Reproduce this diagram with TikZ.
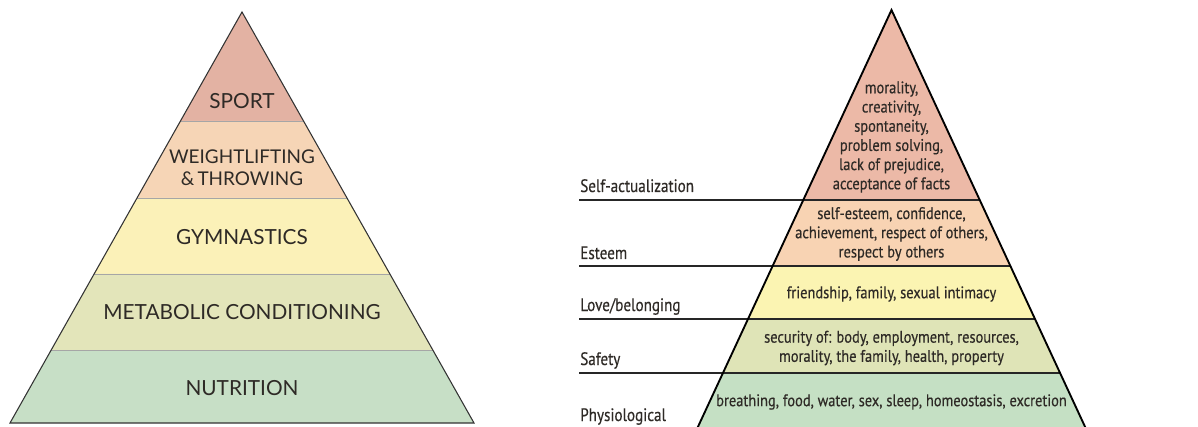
\documentclass[tikz,border=0pt]{standalone}
\usepackage{fontspec}
\newfontfamily\leftfont{Lato}
\newfontfamily\rightfont[FakeStretch=0.86,FakeBold=0.4]{PT Sans}
\newfontfamily\labelfont[FakeStretch=0.84,FakeBold=0.4]{PT Sans}
\definecolor{txt}{HTML}{2E2A26}
\definecolor{lA}{HTML}{E3B2A3}
\definecolor{lB}{HTML}{F6D5B6}
\definecolor{lC}{HTML}{FBF1B8}
\definecolor{lD}{HTML}{E3E5BA}
\definecolor{lE}{HTML}{C7DFC6}
\definecolor{rA}{HTML}{ECB9A7}
\definecolor{rB}{HTML}{F8D3B3}
\definecolor{rC}{HTML}{FBF4B2}
\definecolor{rD}{HTML}{DFE4B7}
\definecolor{rE}{HTML}{C5E0C4}
\tikzset{
  lband/.style={draw=gray!70, line width=0.5pt},
  rband/.style={draw=black, line width=1.4pt},
  ltext/.style={font=\leftfont\fontsize{15.6}{17}\selectfont, text=txt, align=center, inner sep=0pt},
  rtext/.style={font=\rightfont\fontsize{12.6}{14.4}\selectfont, text=txt, align=center, inner sep=0pt},
  rlabel/.style={font=\labelfont\fontsize{13.5}{15}\selectfont, text=txt, anchor=base west, inner sep=0pt},
  lline/.style={draw=black!85, line width=1.4pt}
}
\begin{document}
\begin{tikzpicture}[x=0.75pt,y=-0.75pt]
\useasboundingbox (0,0) rectangle (1198,427);
% ---------- left pyramid ----------
\fill[lA] (242,12) -- (303.5,121) -- (180.5,121) -- cycle;
\fill[lB] (180.5,121) -- (303.5,121) -- (346.9,198) -- (137.1,198) -- cycle;
\fill[lC] (137.1,198) -- (346.9,198) -- (389.8,274) -- (94.2,274) -- cycle;
\fill[lD] (94.2,274) -- (389.8,274) -- (432.7,350) -- (51.3,350) -- cycle;
\fill[lE] (51.3,350) -- (432.7,350) -- (474,423) -- (10,423) -- cycle;
\draw[lband] (180.5,121) -- (303.5,121);
\draw[lband] (137.1,198) -- (346.9,198);
\draw[lband] (94.2,274) -- (389.8,274);
\draw[lband] (51.3,350) -- (432.7,350);
\draw[draw=black!80, line width=0.8pt, line join=miter] (242,12) -- (474,423) -- (10,423) -- cycle;
\node[ltext] (sport) at (242,101) {SPORT};
\node[ltext, font=\leftfont\fontsize{14.2}{16.5}\selectfont] (weight) at (242,168) {WEIGHTLIFTING\\\&\,THROWING};
\node[ltext] (gym) at (242,237) {GYMNASTICS};
\node[ltext] (meta) at (242,312) {METABOLIC CONDITIONING};
\node[ltext] (nutr) at (242,388) {NUTRITION};
% ---------- right pyramid ----------
\fill[rA] (891.5,10) -- (979.8,200) -- (803.2,200) -- cycle;
\fill[rB] (803.2,200) -- (979.8,200) -- (1010.4,266) -- (772.6,266) -- cycle;
\fill[rC] (772.6,266) -- (1010.4,266) -- (1035.1,319) -- (747.9,319) -- cycle;
\fill[rD] (747.9,319) -- (1035.1,319) -- (1060.2,373) -- (722.8,373) -- cycle;
\fill[rE] (722.8,373) -- (1060.2,373) -- (1085.6,427) -- (697.4,427) -- cycle;
\coordinate (l1) at (579,200); \coordinate (e1) at (979.8,200);
\coordinate (l2) at (579,266); \coordinate (e2) at (1010.4,266);
\coordinate (l3) at (579,319); \coordinate (e3) at (1035.1,319);
\coordinate (l4) at (579,373); \coordinate (e4) at (1060.2,373);
\draw[lline] (l1) -- (e1);
\draw[lline] (l2) -- (e2);
\draw[lline] (l3) -- (e3);
\draw[lline] (l4) -- (e4);
\draw[rband, line join=miter] (697.4,428) -- (891.5,10) -- (1085.6,428);
\node[rtext] (selfact) at (891.5,137) {morality,\\creativity,\\spontaneity,\\problem solving,\\lack of prejudice,\\acceptance of facts};
\node[rtext] (esteem) at (891.5,234) {self-esteem, confidence,\\achievement, respect of others,\\respect by others};
\node[rtext] (love) at (891.5,294) {friendship, family, sexual intimacy};
\node[rtext] (safety) at (891.5,348) {security of: body, employment, resources,\\morality, the family, health, property};
\node[rtext] (phys) at (891.5,402) {breathing, food, water, sex, sleep, homeostasis, excretion};
\node[rlabel] (lab1) at (580,192) {Self-actualization};
\node[rlabel] (lab2) at (580,259) {Esteem};
\node[rlabel] (lab3) at (580,311) {Love/belonging};
\node[rlabel] (lab4) at (580,365) {Safety};
\node[rlabel] (lab5) at (580,421) {Physiological};
\end{tikzpicture}
\end{document}
